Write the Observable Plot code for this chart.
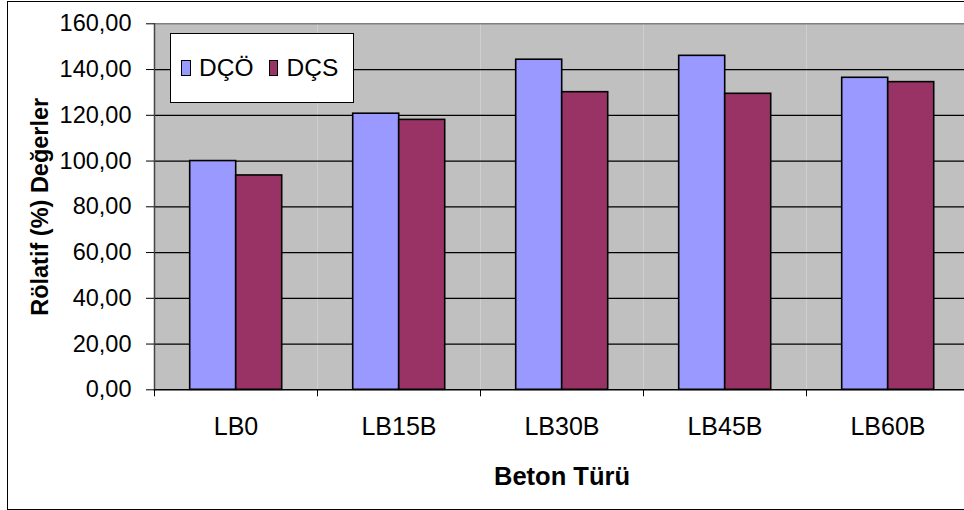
<!DOCTYPE html>
<html><head><meta charset="utf-8">
<script src="https://cdn.jsdelivr.net/npm/d3@7"></script>
<script src="https://cdn.jsdelivr.net/npm/@observablehq/plot@0.6"></script>
<style>
html,body{margin:0;padding:0;background:#fff;overflow:hidden;width:964px;height:510px;}
#wrap{position:relative;width:964px;height:510px;overflow:hidden;font-family:'Liberation Sans',Arial,sans-serif;}
#border{position:absolute;left:7px;top:1px;width:1100px;height:508.5px;border:1.5px solid #000;box-sizing:border-box;}
#chart{position:absolute;left:0;top:0;}
#chart svg{max-width:none !important;display:block;}
g[aria-label="y-axis tick label"]{font-size:23.5px;}
g[aria-label="y-axis label"]{font-size:23.5px;font-weight:bold;}
g[aria-label="fx-axis tick label"]{font-size:25px;}
g[aria-label="fx-axis label"]{font-size:25.5px;font-weight:bold;}
#legend{position:absolute;left:170px;top:33.3px;width:184.3px;height:70px;background:#fff;border:1px solid #000;box-sizing:border-box;display:flex;align-items:center;padding-left:10px;}
#legend .sw{width:16px;height:16px;border:1.5px solid #000;box-sizing:border-box;margin-right:8.5px;}
#legend .lb{font-size:24.5px;margin-right:15px;line-height:1;}
</style>
</head><body>
<div id="wrap">
  <div id="border"></div>
  <div id="chart"></div>
  <div id="legend"></div>
</div>
<script>
const categories = ["LB0", "LB15B", "LB30B", "LB45B", "LB60B"];
const series = ["DÇÖ", "DÇS"];
const dcoValues = [100.0, 120.7, 144.3, 146.0, 136.4];
const dcsValues = [93.7, 118.0, 130.1, 129.4, 134.5];
const seriesColors = ["#9999FF", "#993366"];
const yTicks = [0, 20, 40, 60, 80, 100, 120, 140, 160];
const yLabel = "Rölatif (%) Değerler";
const xLabel = "Beton Türü";

const data = categories.flatMap((c, i) => [
  {cat: c, series: series[0], value: dcoValues[i]},
  {cat: c, series: series[1], value: dcsValues[i]}
]);

const W = 990, H = 510, mL = 154.3, mR = 20.7, mT = 23.3, mB = 120.7;
const bw = (W - mL - mR) / categories.length;
const fmt = d => d.toFixed(2).replace(".", ",");

const plot = Plot.plot({
  width: W, height: H,
  marginLeft: mL, marginRight: mR, marginTop: mT, marginBottom: mB,
  style: {fontFamily: "'Liberation Sans', Arial, sans-serif", background: "transparent", color: "#000"},
  fx: {domain: categories, padding: 0, label: null},
  x: {domain: series, paddingInner: 0, paddingOuter: 0.75, axis: null},
  y: {domain: [0, 160]},
  color: {domain: series, range: seriesColors},
  marks: [
    Plot.frame({fill: "#c0c0c0", stroke: null}),
    Plot.gridY(yTicks.filter(t => t > 0 && t < 160), {stroke: "#000", strokeOpacity: 1, strokeWidth: 1.2}),
    Plot.ruleY([160], {stroke: "#808080", strokeWidth: 1.5}),
    Plot.barY(data, {fx: "cat", x: "series", y: "value", fill: "series", stroke: "#000", strokeWidth: 1.6}),
    Plot.ruleY([0], {stroke: "#000", strokeWidth: 1.5}),
    Plot.frame({anchor: "left", facetAnchor: "left", stroke: "#444", strokeWidth: 1.5}),
    Plot.axisY(yTicks, {tickSize: 8, tickPadding: 15, tickFormat: fmt, stroke: "#000", label: yLabel, labelAnchor: "center", labelOffset: 123, labelArrow: "none"}),
    Plot.axisFx({anchor: "bottom", tickSize: 7, tickFormat: () => "", dx: -bw / 2, label: null, stroke: "#000"}),
    Plot.axisFx({anchor: "bottom", tickSize: 0, tickPadding: 27, label: xLabel, labelAnchor: "center", labelOffset: 95, labelArrow: "none"})
  ]
});
document.getElementById("chart").appendChild(plot);

const legend = document.getElementById("legend");
series.forEach((s, i) => {
  const sw = document.createElement("div");
  sw.className = "sw";
  sw.style.background = seriesColors[i];
  const lb = document.createElement("div");
  lb.className = "lb";
  lb.textContent = s;
  legend.appendChild(sw);
  legend.appendChild(lb);
});
</script>
</body></html>
